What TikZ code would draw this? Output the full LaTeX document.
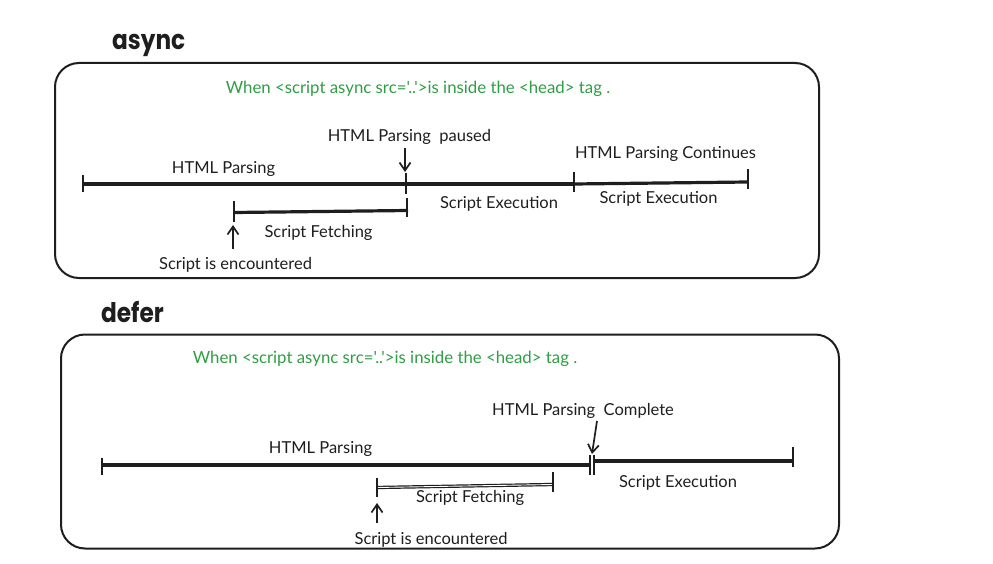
\documentclass[tikz,border=0pt]{standalone}
\usepackage{fontspec}
\setmainfont{Lato}
\newfontfamily\plainfont{Lato}[Ligatures=TeXOff]
\newfontfamily\headfont{Poppins}
\usetikzlibrary{arrows.meta}
\definecolor{ink}{HTML}{1E1E1E}
\definecolor{xgreen}{HTML}{2F9E44}
\begin{document}
\begin{tikzpicture}[x=1pt,y=-1pt,
  lbl/.style={font=\fontsize{16.5}{19}\selectfont, text=ink, inner sep=0pt, anchor=base},
  note/.style={font=\plainfont\fontsize{16.8}{19}\selectfont, text=xgreen, inner sep=0pt, anchor=base},
  head/.style={font=\headfont\bfseries\fontsize{27}{30}\selectfont, text=ink, inner sep=0pt, anchor=base west, xscale=.86},
  frame/.style={draw=ink, line width=2pt, rounded corners=24pt, inner sep=0pt},
  seg/.style={draw=ink, line width=3.2pt},
  tickm/.style={draw=ink, line width=2.6pt},
  dseg/.style={draw=ink, line width=1.2pt, double=white, double distance=0.9pt},
  ptr/.style={draw=ink, line width=1.7pt, -{Straight Barb[length=8pt,width=11pt]}}]
\useasboundingbox (0,0) rectangle (993,564);
\fill[white] (0,0) rectangle (993,564);

% ---------- async ----------
\node[head] (h1) at (112,50) {async};
\node[frame, minimum width=764pt, minimum height=215pt] (box1) at (437,170.5) {};
\node[note] (n1) at (418,94) {When <script async src='..'>is inside the <head> tag .};

\coordinate (a0) at (83,184);
\coordinate (a1) at (405,184);
\coordinate (a2) at (574,184);
\coordinate (a3) at (748,182);
\draw[seg] (a0) -- (a1);
\draw[seg] (a1) -- (a2);
\draw[seg] (a2) -- (a3);
\coordinate (a0t) at (83,175); \coordinate (a0b) at (83,192);
\coordinate (a1t) at (406,173); \coordinate (a1b) at (406,194);
\coordinate (a2t) at (574,172); \coordinate (a2b) at (574,192);
\coordinate (a3t) at (748,169); \coordinate (a3b) at (748,189);
\draw[tickm] (a0t) -- (a0b);
\draw[tickm] (a1t) -- (a1b);
\draw[tickm] (a2t) -- (a2b);
\draw[tickm] (a3t) -- (a3b);

\coordinate (f0) at (234,212.5);
\coordinate (f1) at (408,210.5);
\draw[seg] (f0) -- (f1);
\coordinate (f0t) at (234,201); \coordinate (f0b) at (234,222);
\coordinate (f1t) at (407,198); \coordinate (f1b) at (407,217);
\draw[tickm] (f0t) -- (f0b);
\draw[tickm] (f1t) -- (f1b);

\coordinate (p0) at (405,148); \coordinate (p1) at (405,172);
\draw[ptr] (p0) -- (p1);
\coordinate (e0) at (233,249); \coordinate (e1) at (233,225);
\draw[ptr] (e0) -- (e1);

\node[lbl] (t1) at (223.5,174) {HTML Parsing};
\node[lbl] (t2) at (409.5,142) {HTML Parsing~~paused};
\node[lbl] (t3) at (318.5,237) {Script Fetching};
\node[lbl] (t4) at (235.5,269) {Script is encountered};
\node[lbl] (t5) at (499,209) {Script Execution};
\node[lbl] (t6) at (665.5,159) {HTML Parsing Continues};
\node[lbl] (t7) at (658.5,204) {Script Execution};

% ---------- defer ----------
\node[head] (h2) at (101,322) {defer};
\node[frame, minimum width=778pt, minimum height=214pt] (box2) at (450,441.5) {};
\node[note] (n2) at (385,363) {When <script async src='..'>is inside the <head> tag .};

\coordinate (b0) at (102,465);
\coordinate (b1) at (590,465);
\coordinate (b2) at (594,461);
\coordinate (b3) at (793,461);
\draw[seg] (b0) -- (b1);
\draw[seg] (b2) -- (b3);
\coordinate (b0t) at (102,458); \coordinate (b0b) at (102,475);
\coordinate (b1t) at (590,455); \coordinate (b1b) at (590,475);
\coordinate (b2t) at (594,455); \coordinate (b2b) at (594,475);
\coordinate (b3t) at (793,447); \coordinate (b3b) at (793,467);
\draw[tickm] (b0t) -- (b0b);
\draw[tickm] (b1t) -- (b1b);
\draw[tickm] (b2t) -- (b2b);
\draw[tickm] (b3t) -- (b3b);

\coordinate (g0) at (377,487.5);
\coordinate (g1) at (553,484.5);
\draw[dseg] (g0) -- (g1);
\coordinate (g0t) at (377,478); \coordinate (g0b) at (377,497);
\coordinate (g1t) at (553,472); \coordinate (g1b) at (553,492);
\draw[tickm] (g0t) -- (g0b);
\draw[tickm] (g1t) -- (g1b);

\coordinate (q0) at (597,421); \coordinate (q1) at (592,454);
\draw[ptr] (q0) -- (q1);
\coordinate (r0) at (377,523); \coordinate (r1) at (377,503);
\draw[ptr] (r0) -- (r1);

\node[lbl] (u1) at (320.5,453) {HTML Parsing};
\node[lbl] (u2) at (583,415) {HTML Parsing~~Complete};
\node[lbl] (u3) at (470,502) {Script Fetching};
\node[lbl] (u4) at (431,544) {Script is encountered};
\node[lbl] (u5) at (678,487) {Script Execution};
\end{tikzpicture}
\end{document}
